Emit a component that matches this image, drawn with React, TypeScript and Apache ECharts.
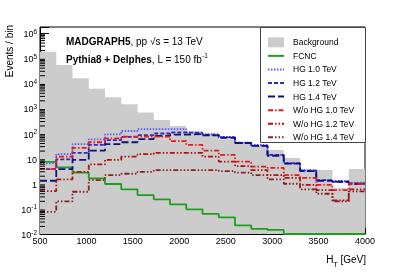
import React, { useEffect, useRef } from 'react';
import * as echarts from 'echarts';

const BIN_EDGES = [500, 675, 850, 1025, 1200, 1375, 1550, 1725, 1900, 2075, 2250, 2425, 2600, 2775, 2950, 3125, 3300, 3475, 3650, 3825, 4000];

const BACKGROUND = [1.8e5, 5.3e4, 1.57e4, 6.0e3, 2.8e3, 1.45e3, 685, 345, 199, 118, 87, 59, 47, 32, 22, 10.6, 3.5, 3.5, 0.68, 3.9];
const FCNC = [7.5, 4.5, 2.75, 1.65, 0.98, 0.6, 0.355, 0.24, 0.152, 0.096, 0.063, 0.046, 0.022, 0.016, 0.0145, 0, 0, 0, 0, 0];
const HG_10 = [6.5, 15, 38, 59, 93, 126, 150, 150, 150, 112, 93, 74, 43, 35, 14, 6.7, 3.5, 1.4, 1.3, 1.1];
const HG_12 = [3.8, 9.3, 17, 35, 55, 74, 87, 100, 110, 105, 90, 70, 42, 33, 14, 6.5, 3.3, 1.4, 1.2, 1.0];
const HG_14 = [1.32, 3.8, 8.9, 21, 38, 45, 60, 80, 90, 95, 85, 68, 42, 32, 13, 6.3, 3.2, 1.3, 1.2, 1.0];
const WO_10 = [3.8, 12, 27, 45, 64, 75, 75, 75, 50, 35, 21, 14, 7.6, 4.8, 4.3, 2.2, 1.7, 0.9, 0.56, 1.0];
const WO_12 = [0.51, 1.5, 3.0, 5.9, 8.9, 12, 15, 17, 17, 17, 12, 7.6, 5, 3.5, 2.2, 1.7, 0.9, 0.56, 0.22, 0.6];
const WO_14 = [0.076, 0.2, 0.48, 1.4, 2.2, 2.5, 3.0, 3.5, 3.5, 3.5, 3.5, 3.2, 2.8, 2.2, 1.5, 1.0, 0.6, 0.4, 0.2, 0.5];

const X_MIN = 500;
const X_MAX = 4000;
const Y_MIN = 0.01;
const Y_MAX = 1.74e6;
const Y_MINOR_TICKS = [
  0.02, 0.03, 0.04, 0.05, 0.06, 0.07, 0.08, 0.09,
  0.2, 0.3, 0.4, 0.5, 0.6, 0.7, 0.8, 0.9,
  2, 3, 4, 5, 6, 7, 8, 9,
  20, 30, 40, 50, 60, 70, 80, 90,
  200, 300, 400, 500, 600, 700, 800, 900,
  2000, 3000, 4000, 5000, 6000, 7000, 8000, 9000,
  2e4, 3e4, 4e4, 5e4, 6e4, 7e4, 8e4, 9e4,
  2e5, 3e5, 4e5, 5e5, 6e5, 7e5, 8e5, 9e5,
];

const FONT = 'Liberation Sans, Arial, Helvetica, sans-serif';

function hist(values: number[]) {
  const pts: number[][] = values.map((v, i) => [BIN_EDGES[i], v > 0 ? v : Y_MIN]);
  const last = values[values.length - 1];
  pts.push([BIN_EDGES[BIN_EDGES.length - 1], last > 0 ? last : Y_MIN]);
  return pts;
}

function lineSeries(name: string, values: number[], color: string, width: number, type: any, z: number) {
  return {
    name,
    type: 'line',
    step: 'end',
    data: hist(values),
    showSymbol: false,
    symbol: 'none',
    color,
    lineStyle: { color, width, type },
    emphasis: { disabled: true },
    z,
  };
}

export default function App() {
  const ref = useRef<HTMLDivElement>(null);
  useEffect(() => {
    const chart = echarts.init(ref.current!, null, { renderer: 'svg' });
    const yLabel = (v: number) => {
      const e = Math.log10(v);
      const r = Math.round(e);
      if (Math.abs(e - r) > 1e-6) return '';
      if (r === 0) return '{b|1}';
      if (r === 1) return '{b|10}';
      return '{b|10}{s|' + r + '}';
    };
    const option: any = {
      animation: false,
      grid: { left: 40, right: 42, top: 27, bottom: 42, show: true, borderColor: '#000', borderWidth: 1, backgroundColor: 'transparent' },
      xAxis: {
        type: 'value', min: X_MIN, max: X_MAX, interval: 500,
        axisLine: { lineStyle: { color: '#000', width: 1 } },
        axisTick: { inside: true, length: 6, lineStyle: { color: '#000' } },
        minorTick: { show: true, splitNumber: 5, length: 3, lineStyle: { color: '#000' } },
        splitLine: { show: false },
        axisLabel: { fontSize: 9, fontFamily: FONT, color: '#000', margin: 2, formatter: (v: number) => String(v) },
      },
      yAxis: {
        type: 'log', logBase: 10, min: Y_MIN, max: Y_MAX, interval: 1,
        axisLine: { lineStyle: { color: '#000', width: 1 } },
        axisTick: { inside: true, length: 9, lineStyle: { color: '#000' } },
        splitLine: { show: false },
        axisLabel: {
          formatter: yLabel, margin: 3, color: '#000',
          rich: {
            b: { fontSize: 9, fontFamily: FONT, color: '#000', lineHeight: 11, verticalAlign: 'bottom' },
            s: { fontSize: 6.5, fontFamily: FONT, color: '#000', lineHeight: 11, verticalAlign: 'top' },
          },
        },
      },
      legend: {
        orient: 'vertical', left: 260, top: 27, padding: [8.5, 0, 0, 7],
        itemWidth: 16, itemHeight: 10, itemGap: 0, selectedMode: false, z: 10,
        itemStyle: { opacity: 0 },
        textStyle: { fontSize: 8.5, fontFamily: FONT, color: '#000', lineHeight: 13.57, padding: [0, 0, 0, 4] },
        data: [
          { name: 'Background', icon: 'rect', itemStyle: { color: '#cccccc', borderWidth: 0, opacity: 1 } },
          'FCNC', 'HG 1.0 TeV', 'HG 1.2 TeV', 'HG 1.4 TeV', 'W/o HG 1.0 TeV', 'W/o HG 1.2 TeV', 'W/o HG 1.4 TeV',
        ],
      },
      graphic: [
        { type: 'rect', z: 5, shape: { x: 260.5, y: 27.5, width: 105, height: 115 }, style: { fill: '#fff', stroke: '#444', lineWidth: 1 } },
        {
          type: 'text', x: 66, y: 41, z: 6,
          style: {
            text: '{b|MADGRAPH5}{r|, pp \u221As = 13 TeV}', verticalAlign: 'middle',
            rich: {
              b: { fontSize: 10, fontWeight: 'bold', fontFamily: FONT, fill: '#000' },
              r: { fontSize: 10, fontFamily: FONT, fill: '#000' },
            },
          },
        },
        {
          type: 'text', x: 66, y: 58, z: 6,
          style: {
            text: '{b|Pythia8 + Delphes}{r|, L = 150 fb}{s|-1}', verticalAlign: 'middle',
            rich: {
              b: { fontSize: 10, fontWeight: 'bold', fontFamily: FONT, fill: '#000', lineHeight: 13, verticalAlign: 'bottom' },
              r: { fontSize: 10, fontFamily: FONT, fill: '#000', lineHeight: 13, verticalAlign: 'bottom' },
              s: { fontSize: 6.5, fontFamily: FONT, fill: '#000', lineHeight: 13, verticalAlign: 'top' },
            },
          },
        },
        {
          type: 'text', x: 9, y: 25, rotation: Math.PI / 2,
          style: { text: 'Events / bin', fontSize: 10, fontFamily: FONT, fill: '#000', align: 'right', verticalAlign: 'middle' },
        },
        {
          type: 'text', x: 366, y: 261,
          style: {
            text: '{n|H}{t|T}{n| [GeV]}', align: 'right', verticalAlign: 'middle',
            rich: {
              n: { fontSize: 10, fontFamily: FONT, fill: '#000', lineHeight: 14, verticalAlign: 'top' },
              t: { fontSize: 7, fontFamily: FONT, fill: '#000', lineHeight: 14, verticalAlign: 'bottom' },
            },
          },
        },
      ],
      series: [
        {
          name: 'Background', type: 'line', step: 'end', data: hist(BACKGROUND), showSymbol: false, symbol: 'none',
          color: '#cccccc', lineStyle: { width: 0, color: '#cccccc' }, areaStyle: { color: '#cccccc', opacity: 1, origin: 'start' },
          emphasis: { disabled: true }, z: 1,
        },
        lineSeries('FCNC', FCNC, '#1e9e1e', 1.8, 'solid', 3),
        lineSeries('HG 1.0 TeV', HG_10, '#5a5aff', 1.8, [1.5, 1.5], 3),
        lineSeries('HG 1.2 TeV', HG_12, '#2a2acc', 1.8, [4, 2], 3),
        lineSeries('HG 1.4 TeV', HG_14, '#10107a', 1.8, [7, 3], 3),
        lineSeries('W/o HG 1.0 TeV', WO_10, '#e61a1a', 1.8, [5, 2, 1.5, 2], 3),
        lineSeries('W/o HG 1.2 TeV', WO_12, '#b01010', 1.8, [5, 2, 1.5, 2, 1.5, 2], 3),
        lineSeries('W/o HG 1.4 TeV', WO_14, '#8a2020', 1.8, [5, 2, 1.5, 2, 1.5, 2, 1.5, 2], 3),
        {
          name: 'minorY', type: 'custom', z: 4, silent: true,
          data: Y_MINOR_TICKS.map((v) => [X_MIN, v]),
          renderItem: (params: any, api: any) => {
            const p = api.coord([api.value(0), api.value(1)]);
            return { type: 'line', shape: { x1: p[0], y1: p[1], x2: p[0] + 5, y2: p[1] }, style: { stroke: '#000', lineWidth: 1 } };
          },
        },
      ],
    };
    chart.setOption(option);
    return () => chart.dispose();
  }, []);
  return <div ref={ref} style={{ position: 'fixed', left: 0, top: 0, width: 407, height: 276 }} />;
}
